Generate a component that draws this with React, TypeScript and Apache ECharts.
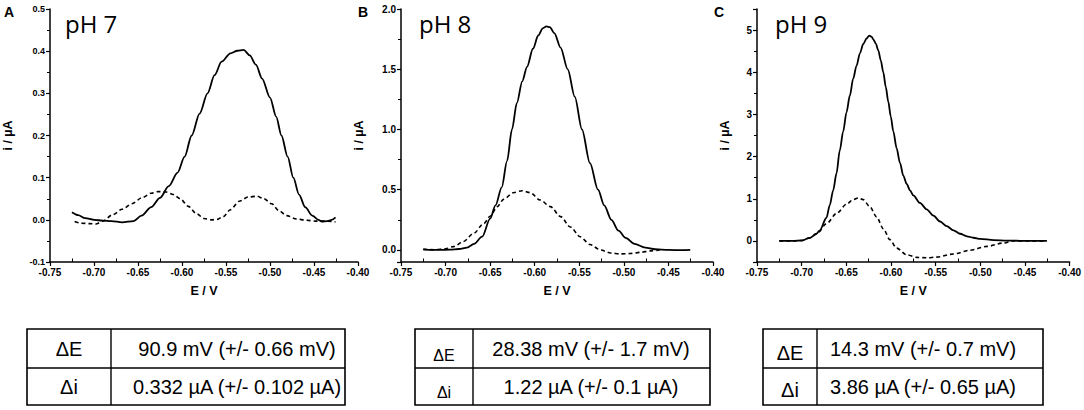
import React, { useEffect, useRef } from "react";
import * as echarts from "echarts";

// ---- data: [E / V, i / µA] ----
const solidA: [number, number][] = [
  [-0.725, 0.018], [-0.718, 0.011], [-0.71, 0.004], [-0.7, 0.0], [-0.69, -0.002], [-0.68, -0.003],
  [-0.668, -0.006], [-0.655, -0.003], [-0.646, 0.01], [-0.635, 0.03], [-0.625, 0.052], [-0.615, 0.08],
  [-0.605, 0.112], [-0.597, 0.15], [-0.589, 0.2], [-0.58, 0.252], [-0.571, 0.3], [-0.563, 0.343],
  [-0.555, 0.375], [-0.545, 0.395], [-0.537, 0.401], [-0.53, 0.403], [-0.523, 0.39], [-0.516, 0.368],
  [-0.509, 0.335], [-0.5, 0.29], [-0.493, 0.245], [-0.487, 0.2], [-0.48, 0.15], [-0.4735, 0.1],
  [-0.467, 0.06], [-0.46, 0.03], [-0.452, 0.01], [-0.445, 0.0], [-0.441, -0.004], [-0.435, -0.003],
  [-0.43, 0.0], [-0.4255, 0.006],
];
const dashedA: [number, number][] = [
  [-0.722, -0.004], [-0.715, -0.008], [-0.705, -0.009], [-0.698, -0.01], [-0.69, -0.003], [-0.679, 0.012],
  [-0.668, 0.025], [-0.657, 0.038], [-0.645, 0.053], [-0.635, 0.063], [-0.627, 0.067], [-0.618, 0.066],
  [-0.61, 0.06], [-0.602, 0.05], [-0.593, 0.032], [-0.583, 0.014], [-0.575, 0.003], [-0.567, 0.0],
  [-0.56, 0.001], [-0.553, 0.008], [-0.545, 0.024], [-0.535, 0.044], [-0.525, 0.054], [-0.515, 0.056],
  [-0.507, 0.05], [-0.498, 0.038], [-0.49, 0.022], [-0.481, 0.01], [-0.47, 0.002], [-0.459, -0.001],
  [-0.447, -0.003], [-0.436, -0.003], [-0.4255, -0.005],
];
const solidB: [number, number][] = [
  [-0.725, 0.005], [-0.715, 0.0], [-0.705, 0.0], [-0.695, 0.002], [-0.685, 0.008], [-0.676, 0.02],
  [-0.668, 0.05], [-0.659, 0.11], [-0.65, 0.26], [-0.644, 0.37], [-0.637, 0.52], [-0.631, 0.74],
  [-0.6255, 1.0], [-0.62, 1.22], [-0.614, 1.4], [-0.6086, 1.52], [-0.602, 1.67], [-0.596, 1.78],
  [-0.591, 1.84], [-0.587, 1.855], [-0.583, 1.85], [-0.578, 1.8], [-0.571, 1.68], [-0.563, 1.5],
  [-0.555, 1.27], [-0.547, 1.0], [-0.538, 0.72], [-0.529, 0.5], [-0.522, 0.37], [-0.514, 0.25],
  [-0.506, 0.16], [-0.498, 0.1], [-0.488, 0.05], [-0.476, 0.02], [-0.465, 0.006], [-0.45, 0.0],
  [-0.435, -0.002], [-0.4255, 0.0],
];
const dashedB: [number, number][] = [
  [-0.725, 0.005], [-0.712, 0.002], [-0.7, 0.01], [-0.691, 0.028], [-0.68, 0.07], [-0.6685, 0.138],
  [-0.657, 0.22], [-0.65, 0.28], [-0.642, 0.36], [-0.635, 0.42], [-0.624, 0.475], [-0.614, 0.492],
  [-0.605, 0.476], [-0.594, 0.415], [-0.5825, 0.36], [-0.571, 0.277], [-0.56, 0.19], [-0.549, 0.11],
  [-0.538, 0.045], [-0.526, 0.0], [-0.515, -0.025], [-0.504, -0.033], [-0.493, -0.03], [-0.4815, -0.02],
  [-0.47, -0.008], [-0.46, 0.0],
];
const solidC: [number, number][] = [
  [-0.725, 0.0], [-0.71, 0.0], [-0.7, 0.01], [-0.691, 0.07], [-0.6834, 0.17], [-0.6797, 0.25],
  [-0.6722, 0.55], [-0.6685, 0.85], [-0.6647, 1.2], [-0.661, 1.6], [-0.6573, 2.15], [-0.6535, 2.6],
  [-0.6498, 3.05], [-0.646, 3.45], [-0.6423, 3.85], [-0.6386, 4.15], [-0.6348, 4.45], [-0.631, 4.67],
  [-0.6273, 4.8], [-0.6243, 4.87], [-0.6215, 4.84], [-0.6198, 4.78], [-0.617, 4.68], [-0.6142, 4.52],
  [-0.6114, 4.28], [-0.6086, 4.0], [-0.6058, 3.65], [-0.603, 3.3], [-0.6002, 2.95], [-0.5974, 2.6],
  [-0.5937, 2.2], [-0.5899, 1.85], [-0.5862, 1.55], [-0.5824, 1.35], [-0.5787, 1.2], [-0.575, 1.08],
  [-0.5675, 0.9], [-0.56, 0.75], [-0.5525, 0.6], [-0.545, 0.46], [-0.5376, 0.35], [-0.53, 0.25],
  [-0.5226, 0.17], [-0.515, 0.11], [-0.5077, 0.075], [-0.5, 0.05], [-0.4852, 0.02], [-0.47, 0.008],
  [-0.4553, 0.003], [-0.44, 0.0], [-0.4255, 0.0],
];
const dashedC: [number, number][] = [
  [-0.725, 0.0], [-0.71, 0.0], [-0.7, 0.01], [-0.691, 0.07], [-0.683, 0.17], [-0.6722, 0.41],
  [-0.661, 0.65], [-0.6498, 0.87], [-0.6423, 0.98], [-0.6367, 1.02], [-0.6311, 0.98], [-0.6236, 0.81],
  [-0.6161, 0.57], [-0.6086, 0.29], [-0.6012, 0.03], [-0.5937, -0.17], [-0.5824, -0.33], [-0.5712, -0.39],
  [-0.56, -0.4], [-0.5488, -0.385], [-0.5301, -0.31], [-0.5114, -0.22], [-0.4927, -0.13], [-0.474, -0.05],
  [-0.4628, 0.0], [-0.445, 0.0], [-0.4255, 0.0],
];

const panelLetters = ["A", "B", "C"];
const phLabels = ["pH 7", "pH 8", "pH 9"];
const yRanges: [number, number][] = [[-0.1, 0.5], [-0.1, 2.0], [-0.5, 5.5]];
const yDecimals = [1, 1, 0];
const rowLabels = ["ΔE", "Δi"];
const dE = ["90.9 mV (+/- 0.66 mV)", "28.38 mV (+/- 1.7 mV)", "14.3 mV (+/- 0.7 mV)"];
const dI = ["0.332 µA (+/- 0.102 µA)", "1.22 µA (+/- 0.1 µA)", "3.86 µA (+/- 0.65 µA)"];

// ---- layout (pixels) ----
const GRIDS = [
  { left: 47, width: 311 },
  { left: 401, width: 312 },
  { left: 757, width: 313 },
];
const GRID_TOP = 9;
const GRID_H = 253;
const Y_NAME_GAP = [36, 36, 26];
const Y_LABEL_SIZE = [9, 10, 10];
const TABLES = [
  { x0: 27, xm: 111, x1: 345, tx: 237, labelFont: 20, bottomAlign: false },
  { x0: 415, xm: 473, x1: 710, tx: 591, labelFont: 16, bottomAlign: true },
  { x0: 763, xm: 817, x1: 1043, tx: 923, labelFont: 20, bottomAlign: true },
];
const T_TOP = 329, T_MID = 368, T_BOT = 405;

const FONT = "'Liberation Sans', Arial, sans-serif";

function App() {
  const ref = useRef<HTMLDivElement>(null);
  useEffect(() => {
    document.body.style.margin = "0";
    if (!ref.current) return;
    const chart = echarts.init(ref.current, null, { renderer: "svg" });
    const solids = [solidA, solidB, solidC];
    const dashes = [dashedA, dashedB, dashedC];

    const lineCommon = {
      axisLine: { show: true, onZero: false, lineStyle: { color: "#000", width: 1.5 } },
      axisTick: { show: true, inside: false, length: 4, lineStyle: { color: "#000", width: 1.2 } },
      splitLine: { show: false },
      minorSplitLine: { show: false },
    };

    const graphic: any[] = [];
    GRIDS.forEach((g, k) => {
      graphic.push({
        type: "text",
        x: g.left - 43,
        y: 5,
        style: { text: panelLetters[k], font: `bold 14px ${FONT}`, fill: "#000" },
      });
      graphic.push({
        type: "text",
        x: g.left + 18,
        y: 11,
        style: { text: phLabels[k], font: `24px 'Open Sans', sans-serif`, fill: "#000" },
      });
    });
    TABLES.forEach((t, k) => {
      graphic.push({
        type: "rect",
        shape: { x: t.x0, y: T_TOP, width: t.x1 - t.x0, height: T_BOT - T_TOP },
        style: { fill: "none", stroke: "#000", lineWidth: 1.6 },
      });
      graphic.push({
        type: "line",
        shape: { x1: t.xm, y1: T_TOP, x2: t.xm, y2: T_BOT },
        style: { stroke: "#000", lineWidth: 1.4 },
      });
      graphic.push({
        type: "line",
        shape: { x1: t.x0, y1: T_MID, x2: t.x1, y2: T_MID },
        style: { stroke: "#000", lineWidth: 1.4 },
      });
      const rows = [[T_TOP, T_MID], [T_MID, T_BOT]];
      const vals = [dE[k], dI[k]];
      rows.forEach(([a, b], r) => {
        graphic.push({
          type: "text",
          x: (t.x0 + t.xm) / 2,
          y: t.bottomAlign ? b - 5 : (a + b) / 2,
          style: {
            text: rowLabels[r],
            font: `${t.labelFont}px ${FONT}`,
            fill: "#000",
            textAlign: "center",
            textVerticalAlign: t.bottomAlign ? "bottom" : "middle",
          },
        });
        graphic.push({
          type: "text",
          x: t.tx,
          y: (a + b) / 2,
          style: {
            text: vals[r],
            font: `20px ${FONT}`,
            fill: "#000",
            textAlign: "center",
            textVerticalAlign: "middle",
          },
        });
      });
    });

    chart.setOption({
      animation: false,
      backgroundColor: "#fff",
      grid: GRIDS.map((g) => ({ left: g.left, width: g.width, top: GRID_TOP, height: GRID_H })),
      xAxis: GRIDS.map((_, k) => ({
        type: "value",
        gridIndex: k,
        min: -0.75,
        max: -0.4,
        interval: 0.05,
        name: "E / V",
        nameLocation: "middle",
        nameGap: 22,
        nameTextStyle: { fontFamily: FONT, fontWeight: "bold", fontSize: 12.5, color: "#000" },
        axisLabel: {
          fontFamily: FONT,
          fontWeight: "bold",
          fontSize: 10,
          color: "#000",
          margin: 5,
          formatter: (v: number) => v.toFixed(2),
        },
        minorTick: { show: true, splitNumber: 2, length: -3.5, lineStyle: { color: "#000", width: 1 } },
        ...lineCommon,
      })),
      yAxis: GRIDS.map((_, k) => ({
        type: "value",
        gridIndex: k,
        min: yRanges[k][0],
        max: yRanges[k][1],
        name: "i / µA",
        nameLocation: "middle",
        nameGap: Y_NAME_GAP[k],
        nameRotate: 90,
        nameTextStyle: { fontFamily: FONT, fontWeight: "bold", fontSize: 12.5, color: "#000" },
        axisLabel: {
          fontFamily: FONT,
          fontWeight: "bold",
          fontSize: Y_LABEL_SIZE[k],
          color: "#000",
          margin: 5,
          showMinLabel: k === 0,
          showMaxLabel: k !== 2,
          formatter: (v: number) => v.toFixed(yDecimals[k]),
        },
        minorTick: { show: true, splitNumber: 2, length: 3, lineStyle: { color: "#000", width: 1 } },
        ...lineCommon,
      })),
      series: [
        ...solids.map((d, k) => ({
          type: "line",
          xAxisIndex: k,
          yAxisIndex: k,
          data: d,
          showSymbol: false,
          smooth: 0.3,
          smoothMonotone: "x",
          lineStyle: { color: "#000", width: 1.8, type: "solid" },
          silent: true,
        })),
        ...dashes.map((d, k) => ({
          type: "line",
          xAxisIndex: k,
          yAxisIndex: k,
          data: d,
          showSymbol: false,
          smooth: 0.3,
          smoothMonotone: "x",
          lineStyle: { color: "#000", width: 1.6, type: [4, 3] },
          silent: true,
        })),
      ],
      graphic,
    });
    return () => chart.dispose();
  }, []);
  return <div ref={ref} style={{ width: 1084, height: 410 }} />;
}

export default App;
